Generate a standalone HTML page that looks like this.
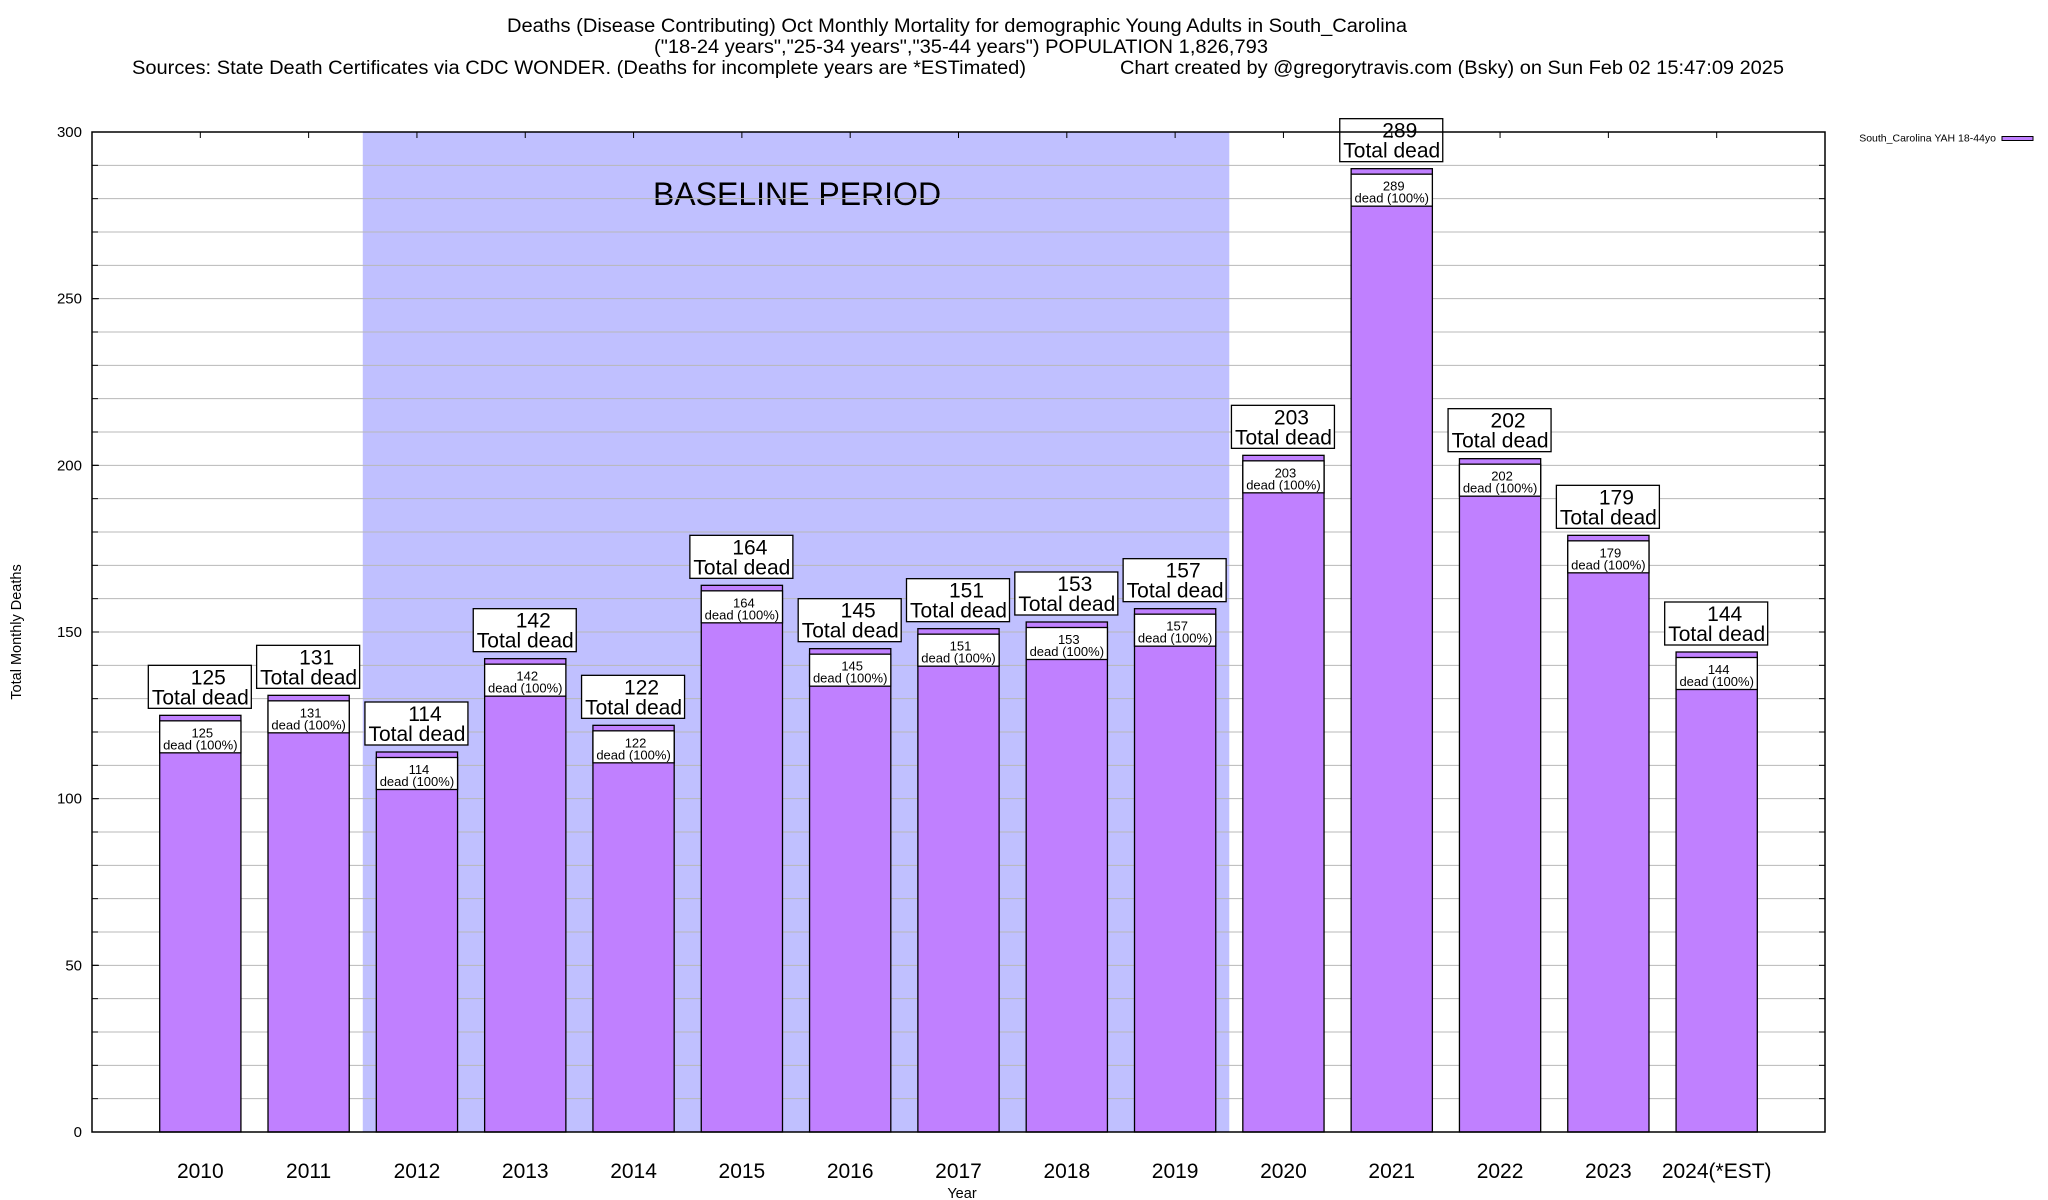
<!DOCTYPE html>
<html><head><meta charset="utf-8"><style>
html,body{margin:0;padding:0;background:#fff;}
svg{display:block;font-family:"Liberation Sans",Arial,sans-serif;}
</style></head><body>
<svg id="chart" width="2048" height="1200" viewBox="0 0 2048 1200" xmlns="http://www.w3.org/2000/svg">
<g>
<text x="957" y="32" font-size="19" text-anchor="middle" textLength="900" lengthAdjust="spacingAndGlyphs">Deaths (Disease Contributing) Oct Monthly Mortality for demographic Young Adults in South_Carolina</text>
<text x="961" y="53" font-size="19" text-anchor="middle" textLength="614" lengthAdjust="spacingAndGlyphs">("18-24 years","25-34 years","35-44 years") POPULATION 1,826,793</text>
<text x="132" y="74" font-size="19" textLength="894" lengthAdjust="spacingAndGlyphs">Sources: State Death Certificates via CDC WONDER. (Deaths for incomplete years are *ESTimated)</text>
<text x="1120" y="74" font-size="19" textLength="664" lengthAdjust="spacingAndGlyphs">Chart created by @gregorytravis.com (Bsky) on Sun Feb 02 15:47:09 2025</text>
</g>
<g id="plot"></g>
</svg>
<script>
const years = ["2010","2011","2012","2013","2014","2015","2016","2017","2018","2019","2020","2021","2022","2023","2024(*EST)"];
const deaths = [125,131,114,142,122,164,145,151,153,157,203,289,202,179,144];
const yTicks = [0,50,100,150,200,250,300];
const baselineRange = [1.5, 9.5];

const NS = "http://www.w3.org/2000/svg";
const L=92, R=1825, T=132, B=1132;
const xS = i => L + (i+1)*(R-L)/16;
const yS = v => B - (v/300)*(B-T);
const plot = document.getElementById('plot');
function mk(tag, attrs, parent, text){
  const e=document.createElementNS(NS,tag);
  for(const k in attrs) e.setAttribute(k,attrs[k]);
  if(text!==undefined) e.textContent=text;
  (parent||plot).appendChild(e);
  return e;
}
const shade = mk('rect',{x:xS(baselineRange[0]),y:T,width:xS(baselineRange[1])-xS(baselineRange[0]),height:B-T,fill:'#c0c0ff'});


const bl = mk('text',{x:797,y:205,'font-size':32,'text-anchor':'middle'},plot,'BASELINE PERIOD');


for(let v=10; v<300; v+=10){
  const g=mk('line',{x1:L,x2:R,y1:yS(v),y2:yS(v),stroke:'#b8b8b8','stroke-width':1});
  
  
  mk('line',{x1:L,x2:L+6,y1:yS(v),y2:yS(v),stroke:'#000','stroke-width':1});
  mk('line',{x1:R-6,x2:R,y1:yS(v),y2:yS(v),stroke:'#000','stroke-width':1});
}
yTicks.forEach(v=>{
  const t=mk('text',{x:82,y:yS(v)+5,'font-size':15,'text-anchor':'end'},plot,String(v));
  
  
  mk('line',{x1:L,x2:L+7,y1:yS(v),y2:yS(v),stroke:'#000','stroke-width':1});
});
const bw = 0.75*(R-L)/16;
deaths.forEach((v,i)=>{
  const cx=xS(i), x0=cx-bw/2, yt=yS(v);
  const bar=mk('rect',{x:x0,y:yt,width:bw,height:B-yt,fill:'#c080ff',stroke:'#000','stroke-width':1.3});
  
  
  const ib=mk('rect',{x:x0,y:yt+5.5,width:bw,height:32,fill:'#fff',stroke:'#000','stroke-width':1.3});
  
  
  mk('text',{x:cx+2,y:yt+22,'font-size':13,'text-anchor':'middle'},plot,String(v));
  mk('text',{x:cx,y:yt+34,'font-size':13,'text-anchor':'middle'},plot,'dead (100%)');
  const ob=mk('rect',{x:cx-52,y:yt-50,width:103,height:43,fill:'#fff',stroke:'#000','stroke-width':1.3});
  
  
  mk('text',{x:cx+8,y:yt-31,'font-size':21,'text-anchor':'middle'},plot,String(v));
  mk('text',{x:cx,y:yt-11,'font-size':21,'text-anchor':'middle'},plot,'Total dead');
  const xl=mk('text',{x:cx,y:1178,'font-size':21,'text-anchor':'middle'},plot,years[i]);
  
  
  mk('line',{x1:cx,x2:cx,y1:T,y2:T+6,stroke:'#000','stroke-width':1});
});
const fr=mk('rect',{x:L,y:T,width:R-L,height:B-T,fill:'none',stroke:'#000','stroke-width':1.5});


const yt=mk('text',{x:0,y:0,'font-size':14.5,'text-anchor':'middle',transform:'translate(21,632) rotate(-90)'},plot,'Total Monthly Deaths');


const xt=mk('text',{x:962,y:1198,'font-size':14.5,'text-anchor':'middle'},plot,'Year');


const lg=mk('text',{x:1996,y:141.5,'font-size':10.5,'text-anchor':'end'},plot,'South_Carolina YAH 18-44yo');


const sw=mk('rect',{x:2002,y:136.5,width:31,height:4,fill:'#c080ff',stroke:'#000','stroke-width':1});


</script>
</body></html>
